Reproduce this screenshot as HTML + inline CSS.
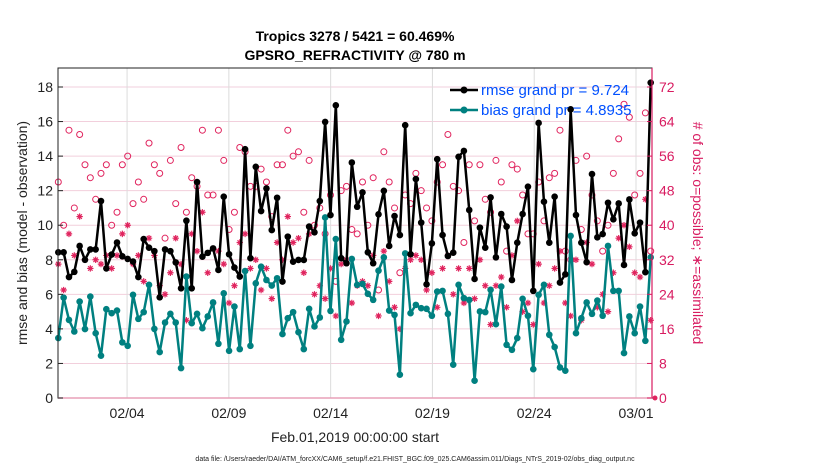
<!DOCTYPE html>
<html><head><meta charset="utf-8">
<style>
html,body{margin:0;padding:0;background:#fff;}
svg{display:block;font-family:"Liberation Sans",Arial,sans-serif;}
</style></head>
<body>
<svg id="chart" width="830" height="470" viewBox="0 0 830 470">
  <text x="355" y="41" text-anchor="middle" font-size="14" font-weight="bold">Tropics 3278 / 5421 = 60.469%</text>
  <text x="355" y="60" text-anchor="middle" font-size="14" font-weight="bold">GPSRO_REFRACTIVITY @ 780 m</text>
  <rect x="58" y="68" width="594" height="330" fill="#fff"/>
  <g id="grid"></g>
  <g id="series"></g>
  <rect x="58" y="68" width="594" height="330" fill="none" stroke="#222" stroke-width="1"/>
  <line x1="652" y1="68" x2="652" y2="398" stroke="#d81b60" stroke-width="1.2"/>
  <line x1="58" y1="398" x2="652" y2="398" stroke="#e8a0b8" stroke-width="1.5"/>
  <g id="axes"></g>
  <text transform="translate(27,233) rotate(-90)" text-anchor="middle" font-size="14" fill="#222">rmse and bias (model - observation)</text>
  <text transform="translate(693,233) rotate(90)" text-anchor="middle" font-size="14" fill="#d81b60"># of obs: o=possible; ∗=assimilated</text>
  <text x="355" y="442" text-anchor="middle" font-size="14" fill="#222">Feb.01,2019 00:00:00 start</text>
  <text x="415" y="461" text-anchor="middle" font-size="7" fill="#222">data file: /Users/raeder/DAI/ATM_forcXX/CAM6_setup/f.e21.FHIST_BGC.f09_025.CAM6assim.011/Diags_NTrS_2019-02/obs_diag_output.nc</text>
  <g>
    <line x1="450" y1="90" x2="478" y2="90" stroke="#000" stroke-width="2.5"/>
    <circle cx="464" cy="90" r="3.5" fill="#000"/>
    <text x="481" y="95" font-size="15" fill="#0050ff">rmse grand pr = 9.724</text>
    <line x1="450" y1="110" x2="478" y2="110" stroke="#008080" stroke-width="2.5"/>
    <circle cx="464" cy="110" r="3.5" fill="#008080"/>
    <text x="481" y="115" font-size="15" fill="#0050ff">bias grand pr = 4.8935</text>
  </g>
</svg>
<script>
const rmse = [8.43,8.43,7.0,7.3,8.8,8.0,8.6,8.6,11.4,7.5,8.3,9.0,8.2,8.05,7.9,7.0,9.2,8.7,8.5,5.83,8.6,8.5,7.85,6.35,10.26,6.35,12.5,8.18,8.4,
8.66,7.41,11.65,8.32,7.55,7.03,14.4,8.09,13.38,10.82,12.13,9.72,11.59,6.74,9.34,7.89,7.99,7.99,9.92,9.59,11.4,15.98,10.59,16.94,8.09,7.8,13.63,11.07,
11.9,8.43,7.8,10.63,11.99,8.8,10.53,9.43,15.79,8.32,12.67,10.15,6.58,8.95,13.82,9.43,8.22,8.41,13.96,14.3,10.88,6.89,9.86,8.7,11.61,8.14,10.65,9.92,
6.83,8.99,10.65,12.23,6.2,15.92,11.36,8.99,11.65,6.68,7.16,16.71,10.59,8.99,7.86,12.96,9.3,9.49,11.3,10.34,11.26,7.7,11.49,9.53,10.15,7.28,18.25];
const bias = [3.47,5.81,4.52,3.85,5.58,3.99,5.87,3.75,2.45,5.14,4.91,5.06,3.22,3.02,5.97,4.58,4.97,6.55,4.0,2.66,4.37,4.87,4.37,1.73,7.03,4.33,4.87,4.04,4.72,
5.53,3.14,6.06,2.73,5.29,2.83,7.35,3.02,6.64,7.6,6.83,6.51,6.93,3.7,4.62,4.97,3.81,2.83,5.16,4.14,4.66,10.45,5.04,9.2,3.37,4.43,8.05,6.55,
6.6,6.03,5.68,7.37,8.14,5.06,4.81,1.35,8.37,4.91,5.39,5.2,5.16,4.76,6.16,6.2,4.87,1.93,6.55,5.78,5.68,1.0,5.01,4.97,6.26,4.27,6.45,3.08,
2.79,3.47,5.74,4.76,1.67,5.97,6.55,3.66,2.95,1.77,1.58,9.38,3.75,4.62,5.53,4.87,5.64,4.76,8.8,6.2,6.2,2.6,4.72,3.75,5.29,3.31,8.14];
const nPossible = [50,40,62,44,61,54,51,46,52,54,40,43,54,56,45,50,46,59,54,52,37,55,45,58,43,51,49,62,47,
47,62,55,39,43,58,57,49,49,53,50,42,54,54,62,56,57,43,55,40,44,38,47,27,48,49,39,38,
50,40,51,25,57,50,44,29,47,45,52,48,44,41,50,54,61,49,48,36,54,41,54,46,43,55,50,34,
54,53,47,38,38,50,41,51,52,62,34,32,55,39,56,47,41,34,40,52,60,68,65,47,52,66,34];
const nAssim = [31,25,38,33,42,32,30,32,31,33,30,33,38,40,31,33,27,37,33,26,24,29,37,31,18,38,34,43,29,
22,34,31,22,26,36,38,30,32,25,30,23,36,32,42,36,37,29,38,24,26,23,30,19,31,32,22,26,
27,26,33,19,34,27,21,16,30,32,33,32,25,29,21,30,33,24,30,22,30,23,32,26,17,26,28,21,
33,41,20,22,17,31,22,26,30,34,22,19,32,18,36,31,21,24,20,29,37,40,35,29,28,46,18];
const leftTicks = [0,2,4,6,8,10,12,14,16,18];
const rightTicks = [0,8,16,24,32,40,48,56,64,72];
const dateDays = [4,9,14,19,24,29];
const dateLabels = ["02/04","02/09","02/14","02/19","02/24","03/01"];

const NS="http://www.w3.org/2000/svg";
const X0=58.3, X1=650.7, YB=398, YT=68;
const yL = v => YB - v*(YB-YT)/19.1;
const yR = c => yL(c/4);
const xI = i => X0 + i*(X1-X0)/(rmse.length-1);
const xD = d => 66 + (d-1)*20.357;
function mk(tag, attrs, parent){const e=document.createElementNS(NS,tag);for(const k in attrs)e.setAttribute(k,attrs[k]);parent.appendChild(e);return e;}
const grid=document.getElementById('grid'), axes=document.getElementById('axes'), ser=document.getElementById('series');

leftTicks.forEach(v=>{
  if(v>0){const g=mk('line',{x1:58,x2:652,y1:yL(v),y2:yL(v),stroke:'#f2cfdc','stroke-width':1},grid);
  
  }
  const t=mk('text',{x:53,y:yL(v)+5,'text-anchor':'end','font-size':14,fill:'#222'},axes);
  t.textContent=v;
  
  
  mk('line',{x1:58,x2:63,y1:yL(v),y2:yL(v),stroke:'#222'},axes);
});
rightTicks.forEach(c=>{
  const t=mk('text',{x:659,y:yR(c)+5,'font-size':14,fill:'#d81b60'},axes);
  t.textContent=c;
  
  
  mk('line',{x1:647,x2:652,y1:yR(c),y2:yR(c),stroke:'#d81b60'},axes);
});
dateDays.forEach((d,i)=>{
  const g=mk('line',{x1:xD(d),x2:xD(d),y1:68,y2:398,stroke:'#dcdcdc','stroke-width':1},grid);
  
  
  const t=mk('text',{x:xD(d),y:418,'text-anchor':'middle','font-size':14,fill:'#222'},axes);
  t.textContent=dateLabels[i];
  
  
});

nPossible.forEach((c,i)=>{
  const e=mk('circle',{cx:xI(i),cy:yR(c),r:3,fill:'none',stroke:'#e0245e','stroke-width':1},ser);
  
  
});
nAssim.forEach((c,i)=>{
  const x=xI(i), y=yR(c), s=3.2;
  const e=mk('path',{d:`M${x-s} ${y}H${x+s}M${x} ${y-s}V${y+s}M${x-s*.7} ${y-s*.7}L${x+s*.7} ${y+s*.7}M${x-s*.7} ${y+s*.7}L${x+s*.7} ${y-s*.7}`,stroke:'#e0245e','stroke-width':1.2,fill:'none'},ser);
  
  
});
function line(arr,color,name){
  const p=mk('polyline',{points:arr.map((v,i)=>xI(i)+','+yL(v)).join(' '),fill:'none',stroke:color,'stroke-width':2.5,'stroke-linejoin':'round'},ser);
  
  
  arr.forEach((v,i)=>{
    const c=mk('circle',{cx:xI(i),cy:yL(v),r:3.3,fill:color},ser);
    
    
  });
}
line(bias,'#008080','bias');
line(rmse,'#000000','rmse');
const z=mk('circle',{cx:655,cy:398,r:2.5,fill:'#e0245e'},ser);


</script>
</body></html>
